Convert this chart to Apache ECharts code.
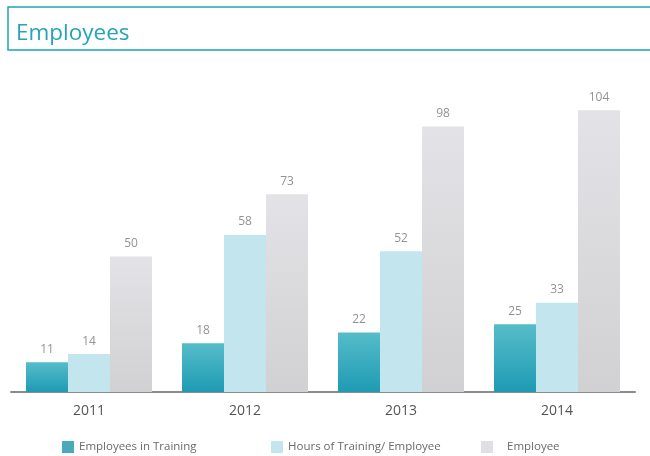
<!DOCTYPE html>
<html>
<head>
<meta charset="utf-8">
<script src="https://cdn.jsdelivr.net/npm/echarts@6/dist/echarts.min.js"></script>
<style>html,body{margin:0;padding:0;background:#fff}#c{width:650px;height:456px}</style>
</head>
<body>
<div id="c"></div>
<script>
const categories = ['2011', '2012', '2013', '2014'];
const seriesNames = ['Employees in Training', 'Hours of Training/ Employee', 'Employee'];
const trainingValues = [11, 18, 22, 25];
const hoursValues = [14, 58, 52, 33];
const employeeValues = [50, 73, 98, 104];

const FONT = '"Open Sans", sans-serif';
const chart = echarts.init(document.getElementById('c'));
const lbl = {show: true, position: 'top', distance: 7, color: '#939393', fontSize: 12, fontFamily: FONT};
const legendBase = {top: 441, padding: 0, itemWidth: 12, itemHeight: 12, icon: 'rect', selectedMode: false,
  textStyle: {color: '#6a6a6a', fontSize: 11.5, fontFamily: FONT}};
chart.setOption({
  animation: false,
  graphic: [
    {type: 'rect', shape: {x: 8, y: 7, width: 700, height: 43}, style: {fill: 'none', stroke: '#1fa3b8', lineWidth: 1.5}},
    {type: 'text', left: 16, top: 22, style: {text: 'Employees', fill: '#26a4b9', fontSize: 22.5, fontFamily: FONT}}
  ],
  legend: [
    Object.assign({}, legendBase, {left: 62, data: [{name: seriesNames[0], itemStyle: {color: '#4aa9bd'}}]}),
    Object.assign({}, legendBase, {left: 271, data: [{name: seriesNames[1], itemStyle: {color: '#c2e5ee'}}]}),
    Object.assign({}, legendBase, {left: 481, data: [{name: seriesNames[2], itemStyle: {color: '#e0e0e4'}}], textStyle: Object.assign({}, legendBase.textStyle, {padding: [0, 0, 0, 9]})})
  ],
  grid: {left: 11, right: 15, top: 67, bottom: 64},
  xAxis: {
    type: 'category', data: categories,
    axisLine: {lineStyle: {color: '#8c8c8c', width: 2}},
    axisTick: {show: false},
    axisLabel: {color: '#555', fontSize: 14, margin: 12, fontFamily: FONT}
  },
  yAxis: {type: 'value', min: 0, max: 120, show: false, splitLine: {show: false}},
  series: [
    {name: seriesNames[0], type: 'bar', data: trainingValues, barWidth: 42, barGap: '0%', label: lbl,
      itemStyle: {color: new echarts.graphic.LinearGradient(0, 0, 0, 1, [{offset: 0, color: '#56bcc9'}, {offset: 1, color: '#1e9bb4'}])}},
    {name: seriesNames[1], type: 'bar', data: hoursValues, barWidth: 42, barGap: '0%', label: lbl,
      itemStyle: {color: '#c2e5ee'}},
    {name: seriesNames[2], type: 'bar', data: employeeValues, barWidth: 42, barGap: '0%', label: lbl,
      itemStyle: {color: new echarts.graphic.LinearGradient(0, 0, 0, 1, [{offset: 0, color: '#e3e3e7'}, {offset: 1, color: '#d1d1d3'}])}}
  ]
});
</script>
</body>
</html>
